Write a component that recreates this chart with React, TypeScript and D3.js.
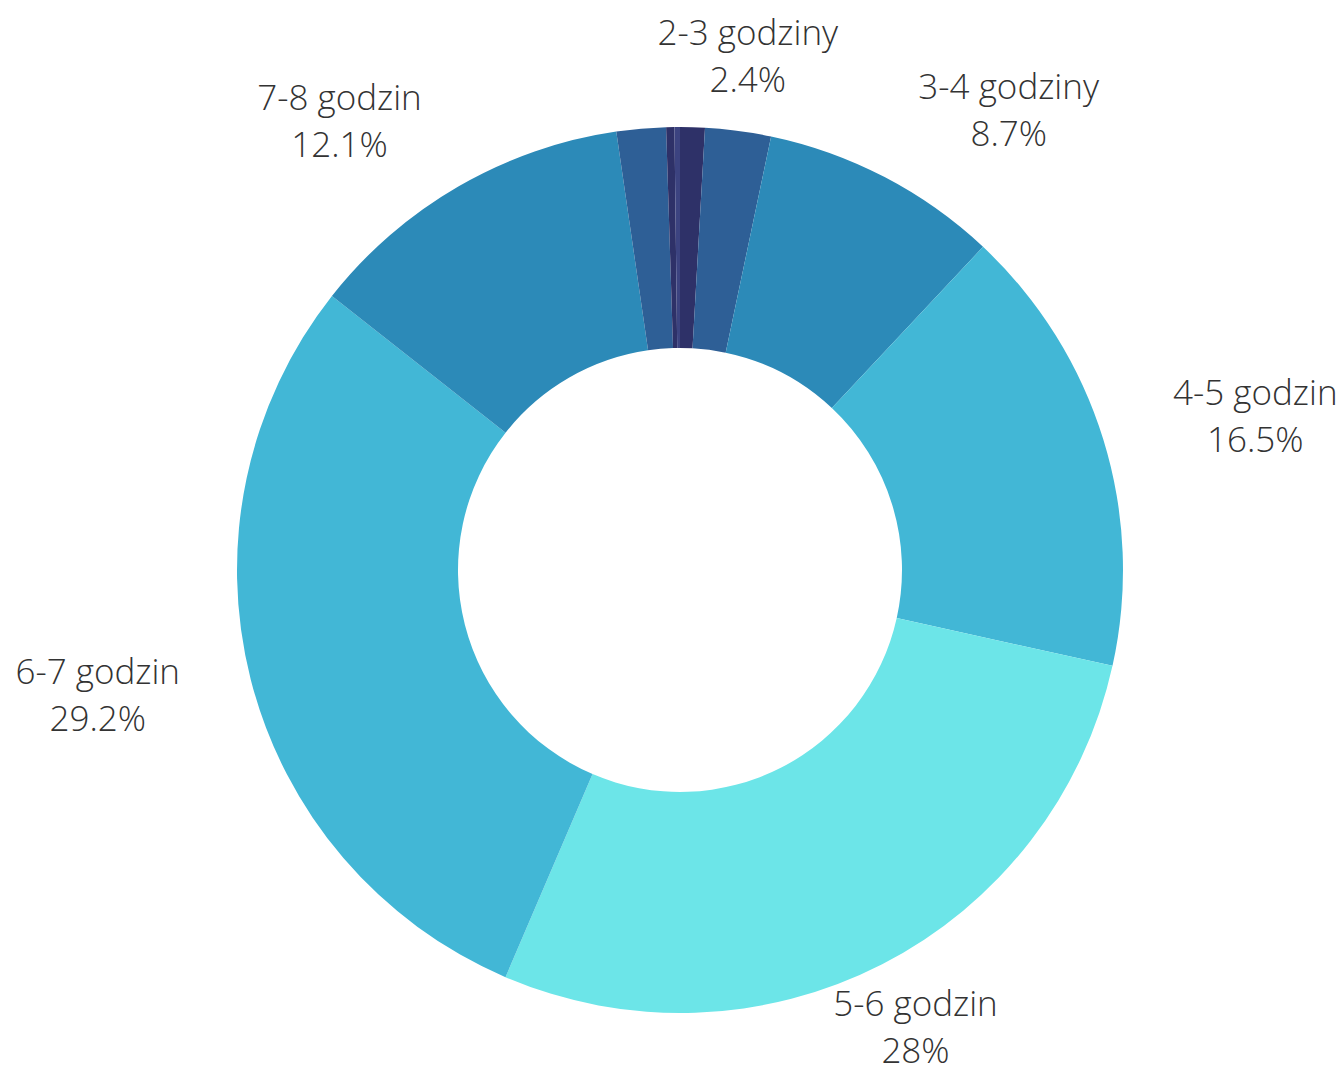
import React from "react";
import * as d3 from "d3";

const categories = [
  "1-2 godziny",
  "2-3 godziny",
  "3-4 godziny",
  "4-5 godzin",
  "5-6 godzin",
  "6-7 godzin",
  "7-8 godzin",
  "8-9 godzin",
  "9-10 godzin",
  "ponad 10 godzin",
];
const values = [0.9, 2.4, 8.7, 16.5, 28, 29.2, 12.1, 1.8, 0.3, 0.2];
const colors = [
  "#2e3168",
  "#2e5f96",
  "#2c8ab8",
  "#42b7d6",
  "#6ce5e8",
  "#42b7d6",
  "#2c8ab8",
  "#2e5f96",
  "#2e3168",
  "#3c4380",
];
const labelled = ["2-3 godziny", "3-4 godziny", "4-5 godzin", "5-6 godzin", "6-7 godzin", "7-8 godzin"];

const W = 1344;
const H = 1070;
const cx = 680;
const cy = 570;
const R = 443;
const r = 222;
const FONT_SIZE = 35;
const FONT_WEIGHT = 300;
const FONT_FAMILY = "'Open Sans', sans-serif";

let measureCtx: CanvasRenderingContext2D | null = null;
function textWidth(s: string): number {
  if (!measureCtx) {
    const c = document.createElement("canvas");
    measureCtx = c.getContext("2d");
  }
  if (!measureCtx) return s.length * FONT_SIZE * 0.5;
  measureCtx.font = `${FONT_WEIGHT} ${FONT_SIZE}px ${FONT_FAMILY}`;
  return measureCtx.measureText(s).width;
}

export default function App() {
  const data = categories.map((c, i) => ({ name: c, value: values[i], color: colors[i] }));
  const pie = d3.pie<any>().value((d) => d.value).sort(null).startAngle(0).endAngle(2 * Math.PI);
  const arcs = pie(data);
  const arcGen = d3.arc<any>().innerRadius(r).outerRadius(R);
  const fmt = (v: number) => `${v}%`;
  const labelR = R + 73;
  return (
    <svg width={W} height={H} style={{ position: "absolute", left: 0, top: 0, background: "#fff" }}>
      <g transform={`translate(${cx},${cy})`}>
        {arcs.map((a, i) => (
          <path key={i} d={arcGen(a) as string} fill={a.data.color} />
        ))}
        {arcs
          .filter((a) => labelled.includes(a.data.name))
          .map((a, i) => {
            const mid = (a.startAngle + a.endAngle) / 2;
            const ux = Math.sin(mid);
            const uy = -Math.cos(mid);
            const qx = labelR * ux;
            const qy = labelR * uy;
            const l1 = a.data.name;
            const l2 = fmt(a.data.value);
            const w = Math.max(textWidth(l1), textWidth(l2));
            let x = qx;
            if (Math.abs(ux) > 0.46) x = qx + Math.sign(ux) * (w / 2);
            return (
              <text
                key={i}
                x={x}
                y={qy}
                textAnchor="middle"
                fontFamily={FONT_FAMILY}
                fontSize={FONT_SIZE}
                fontWeight={FONT_WEIGHT}
                fill="#333"
              >
                <tspan x={x} dy={-13}>{l1}</tspan>
                <tspan x={x} dy={47}>{l2}</tspan>
              </text>
            );
          })}
      </g>
    </svg>
  );
}
